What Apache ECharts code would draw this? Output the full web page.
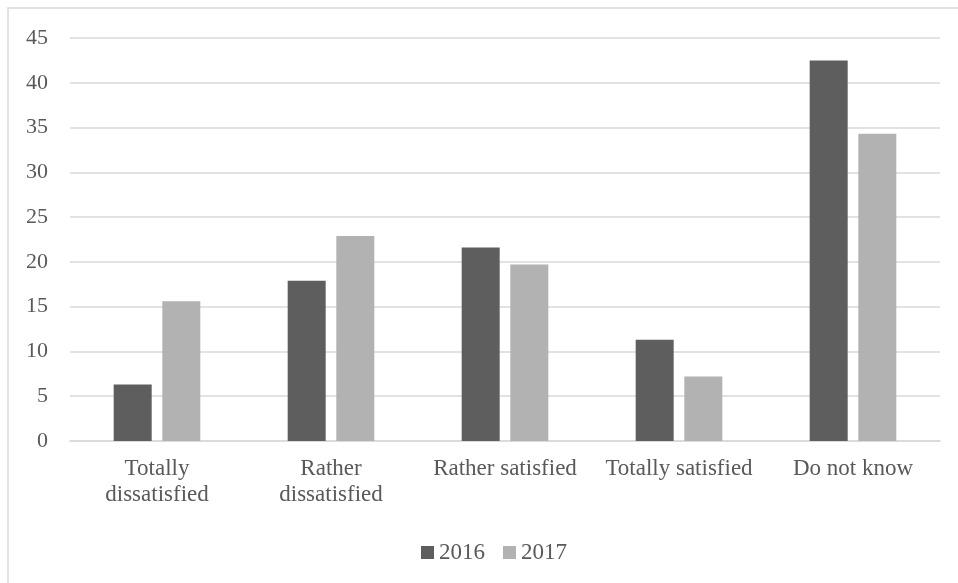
<!DOCTYPE html>
<html>
<head>
<meta charset="utf-8">
<script src="https://cdn.jsdelivr.net/npm/echarts@6/dist/echarts.min.js"></script>
<style>
  html, body { margin: 0; padding: 0; background: #fff; }
  #chart { width: 958px; height: 583px; }
</style>
</head>
<body>
<div id="chart"></div>
<script>
const categories = ['Totally dissatisfied', 'Rather dissatisfied', 'Rather satisfied', 'Totally satisfied', 'Do not know'];
const values2016 = [6.3, 17.9, 21.6, 11.3, 42.5];
const values2017 = [15.6, 22.9, 19.7, 7.2, 34.3];

const textColor = '#595959';
const serif = 'Liberation Serif';

const chart = echarts.init(document.getElementById('chart'));
chart.setOption({
  animation: false,
  graphic: [{
    type: 'rect',
    shape: { x: 8, y: 8, width: 1000, height: 640 },
    style: { fill: 'none', stroke: '#d9d9d9', lineWidth: 1.5 },
    silent: true
  }],
  grid: { left: 70, right: 18, top: 38, bottom: 142 },
  legend: {
    left: 416,
    top: 536,
    itemWidth: 13,
    itemHeight: 13,
    itemGap: 18,
    icon: 'rect',
    textStyle: { fontFamily: serif, fontSize: 23, color: textColor },
    data: ['2016', '2017']
  },
  xAxis: {
    type: 'category',
    data: categories,
    axisLine: { lineStyle: { color: '#d9d9d9', width: 1.5 } },
    axisTick: { show: false },
    axisLabel: {
      fontFamily: serif,
      fontSize: 23,
      color: textColor,
      margin: 15,
      lineHeight: 26,
      interval: 0,
      formatter: function (v) { return v.replace(' dissatisfied', '\ndissatisfied'); }
    }
  },
  yAxis: {
    type: 'value',
    min: 0,
    max: 45,
    interval: 5,
    axisLine: { show: false },
    axisTick: { show: false },
    axisLabel: { fontFamily: serif, fontSize: 22, color: textColor, margin: 22 },
    splitLine: { lineStyle: { color: '#d9d9d9', width: 1.5 } }
  },
  series: [
    {
      name: '2016',
      type: 'bar',
      data: values2016,
      barWidth: 38,
      barGap: '28%',
      itemStyle: { color: '#5e5e5e' }
    },
    {
      name: '2017',
      type: 'bar',
      data: values2017,
      barWidth: 38,
      barGap: '28%',
      itemStyle: { color: '#b2b2b2' }
    }
  ]
});
</script>
</body>
</html>
